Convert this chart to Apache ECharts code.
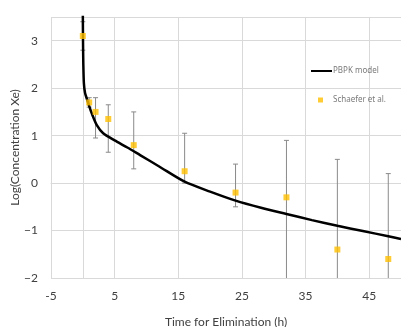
<!DOCTYPE html>
<html>
<head>
<meta charset="utf-8">
<script src="https://cdn.jsdelivr.net/npm/echarts@6/dist/echarts.min.js"></script>
<style>html,body{margin:0;padding:0;background:#fff;}#c{width:401px;height:327px;}</style>
</head>
<body>
<div id="c"></div>
<script>
// PBPK model curve
var modelTime = [0, 0.03, 0.08, 0.17, 0.35, 0.7, 1.0, 1.4, 2.2, 3.2, 5, 7, 9, 12, 16, 20, 24, 28, 32, 36, 40, 44, 48, 50];
var modelLog  = [3.6, 3.0, 2.5, 2.1, 1.9, 1.75, 1.62, 1.47, 1.22, 1.05, 0.9, 0.75, 0.59, 0.35, 0.03, -0.18, -0.37, -0.52, -0.65, -0.78, -0.9, -1.01, -1.12, -1.18];
// Schaefer et al. observations
var obsTime = [0, 1, 2, 4, 8, 16, 24, 32, 40, 48];
var obsLog  = [3.1, 1.7, 1.5, 1.35, 0.8, 0.25, -0.2, -0.3, -1.4, -1.6];
var obsLow  = [2.8, 1.6, 0.95, 0.65, 0.3, 0.0, -0.5, -3, -3, -3];
var obsHigh = [3.4, 1.8, 1.8, 1.65, 1.5, 1.05, 0.4, 0.9, 0.5, 0.2];
var xTicks = [-5, 5, 15, 25, 35, 45];
var yTicks = [-2, -1, 0, 1, 2, 3];

var chart = echarts.init(document.getElementById('c'));
var modelData = modelTime.map(function(t, i){ return [t, modelLog[i]]; });
var obsData = obsTime.map(function(t, i){ return [t, obsLog[i]]; });
var errData = obsTime.map(function(t, i){ return [t, obsLow[i], obsHigh[i]]; });
var grey = '#d9d9d9';
chart.setOption({
  animation: false,
  grid: {left: 51, right: 0, top: 17, bottom: 49, containLabel: false, outerBoundsMode: 'none'},
  legend: [
    {data: [{name: 'PBPK model', icon: 'rect'}], left: 306, top: 62, itemWidth: 21, itemHeight: 2,
     textStyle: {fontFamily: 'Noto Sans', fontSize: 8, color: '#7a7a7a', padding: [0,0,0,-4]}},
    {data: [{name: 'Schaefer et al.', icon: 'rect'}], left: 313, top: 91, itemWidth: 5, itemHeight: 5,
     textStyle: {fontFamily: 'Noto Sans', fontSize: 8, color: '#7a7a7a', padding: [0,0,0,5]}}
  ],
  xAxis: {
    type: 'value', min: xTicks[0], max: 50, interval: 10,
    name: 'Time for Elimination (h)', nameLocation: 'middle', nameGap: 38, nameMoveOverlap: false,
    nameTextStyle: {fontFamily: 'Lato', fontSize: 12, color: '#404040'},
    axisLine: {show: true, lineStyle: {color: grey}},
    axisTick: {show: false},
    axisLabel: {fontFamily: 'Lato', fontSize: 12, color: '#404040', margin: 12, showMaxLabel: false,
      formatter: function(v){ return xTicks.indexOf(v) >= 0 ? String(v) : ''; }},
    splitLine: {show: true, lineStyle: {color: grey}}
  },
  yAxis: {
    type: 'value', min: yTicks[0], max: 3.5, interval: 1,
    name: 'Log(Concentration Xe)', nameLocation: 'middle', nameGap: 30, nameMoveOverlap: false,
    nameTextStyle: {fontFamily: 'Lato', fontSize: 12, color: '#404040'},
    axisLine: {show: true, lineStyle: {color: grey}},
    axisTick: {show: false},
    axisLabel: {fontFamily: 'Lato', fontSize: 12, color: '#404040', margin: 13, showMaxLabel: false,
      formatter: function(v){ if (yTicks.indexOf(v) < 0) return ''; return v < 0 ? '\u2212' + Math.abs(v) : String(v); }},
    splitLine: {show: true, lineStyle: {color: grey}}
  },
  series: [
    {
      name: 'err', type: 'custom', data: errData, z: 1, clip: true,
      renderItem: function(params, api){
        var x = api.value(0), lo = api.value(1), hi = api.value(2);
        var a = api.coord([x, hi]), b = api.coord([x, lo]);
        var w = 2.5, st = {stroke: '#8a8a8a', lineWidth: 1};
        return {type: 'group', children: [
          {type: 'line', shape: {x1: a[0], y1: a[1], x2: b[0], y2: b[1]}, style: st},
          {type: 'line', shape: {x1: a[0]-w, y1: a[1], x2: a[0]+w, y2: a[1]}, style: st},
          {type: 'line', shape: {x1: b[0]-w, y1: b[1], x2: b[0]+w, y2: b[1]}, style: st}
        ]};
      }
    },
    {
      name: 'PBPK model', type: 'line', data: modelData, z: 2,
      smooth: 0.25, showSymbol: false, symbol: 'none',
      lineStyle: {color: '#000', width: 2.5}, itemStyle: {color: '#000'}
    },
    {
      name: 'Schaefer et al.', type: 'scatter', data: obsData, z: 3,
      symbol: 'rect', symbolSize: 6, itemStyle: {color: '#FFC000'}
    }
  ]
});
</script>
</body>
</html>
